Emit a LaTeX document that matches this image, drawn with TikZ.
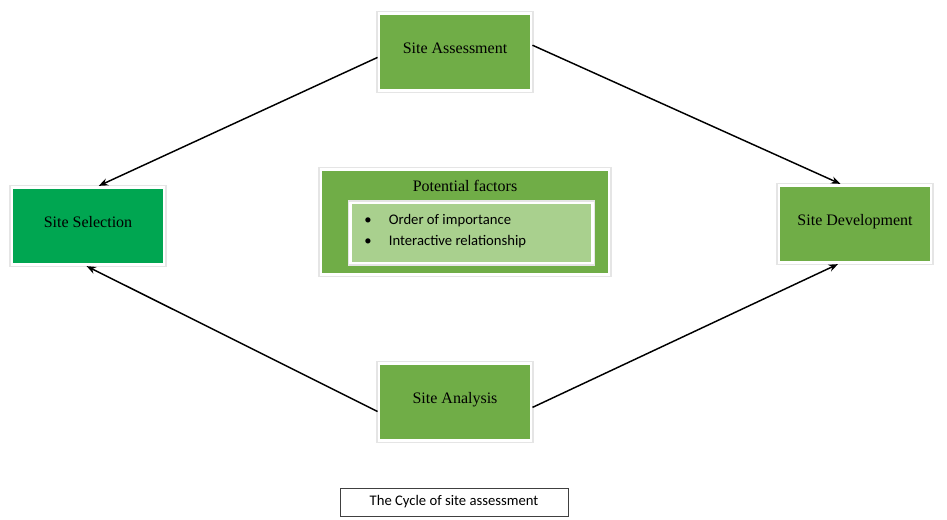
\documentclass[tikz,border=0pt]{standalone}
\usepackage{fontspec}
\setmainfont{Liberation Serif}
\newfontfamily\calibri{Carlito}
\usetikzlibrary{positioning}
\usetikzlibrary{arrows.meta}

\definecolor{stagegreen}{RGB}{112,173,71}
\definecolor{selectgreen}{RGB}{0,166,81}
\definecolor{listgreen}{RGB}{169,208,142}
\definecolor{bevelgreen}{RGB}{78,128,48}

\tikzset{
  bevelbox/.style={draw=white, line width=2.2pt,
    preaction={draw=black!10, line width=4.2pt},
    path picture={\draw[#1, line width=1.8pt] (path picture bounding box.south west) rectangle (path picture bounding box.north east);}},
  stagebox/.style={bevelbox=bevelgreen, fill=stagegreen, minimum width=114pt, minimum height=58pt,
    inner sep=0pt, text height=8pt, text depth=6pt, font=\fontsize{12}{14}\selectfont},
  cyclearrow/.style={-{Stealth[length=7pt,width=5.5pt]}, line width=1.1pt, black}
}

\begin{document}
\begin{tikzpicture}[x=0.75pt,y=-0.75pt]
        \useasboundingbox (0,0) rectangle (947,520);

        % The four stages
        \node[stagebox] (assess) at (455,52) {Site Assessment};
        \node[stagebox, fill=selectgreen, bevelbox=selectgreen!80!black] (select) at (88,226) {Site Selection};
        \node[stagebox] (develop) at (855,224) {Site Development};
        \node[stagebox] (analysis) at (455,402) {Site Analysis};

        % Middle box
        \node[bevelbox=bevelgreen, fill=stagegreen, minimum width=216pt, minimum height=79pt] (factors) at (465,222) {};
        \node[font=\fontsize{12}{14}\selectfont] (factortitle) at (465,186) {Potential factors};
        \node[bevelbox=listgreen!75!black, fill=listgreen, minimum width=181pt, minimum height=45pt] (factorlist) at (471.5,233) {};
        \node[anchor=west, font=\calibri\fontsize{11}{15.6}\selectfont, align=left, inner sep=0pt] (factoritems) at (364,231)
          {\textbullet\hspace{13pt}Order of importance\\ \textbullet\hspace{13pt}Interactive relationship};

        % Connectors
        \draw[cyclearrow] (assess.184) -- (select.75);
        \draw[cyclearrow] (assess.5) -- (develop.110);
        \draw[cyclearrow] (analysis.187) -- (select.268);
        \draw[cyclearrow] (analysis.356) -- (develop.247);

        % Caption
        \node[draw=black!75, line width=0.6pt, minimum width=171pt, minimum height=21pt, inner sep=0pt,
          font=\calibri\fontsize{11}{12}\selectfont] (caption) at (454,502) {The Cycle of site assessment};
    \end{tikzpicture}
\end{document}
